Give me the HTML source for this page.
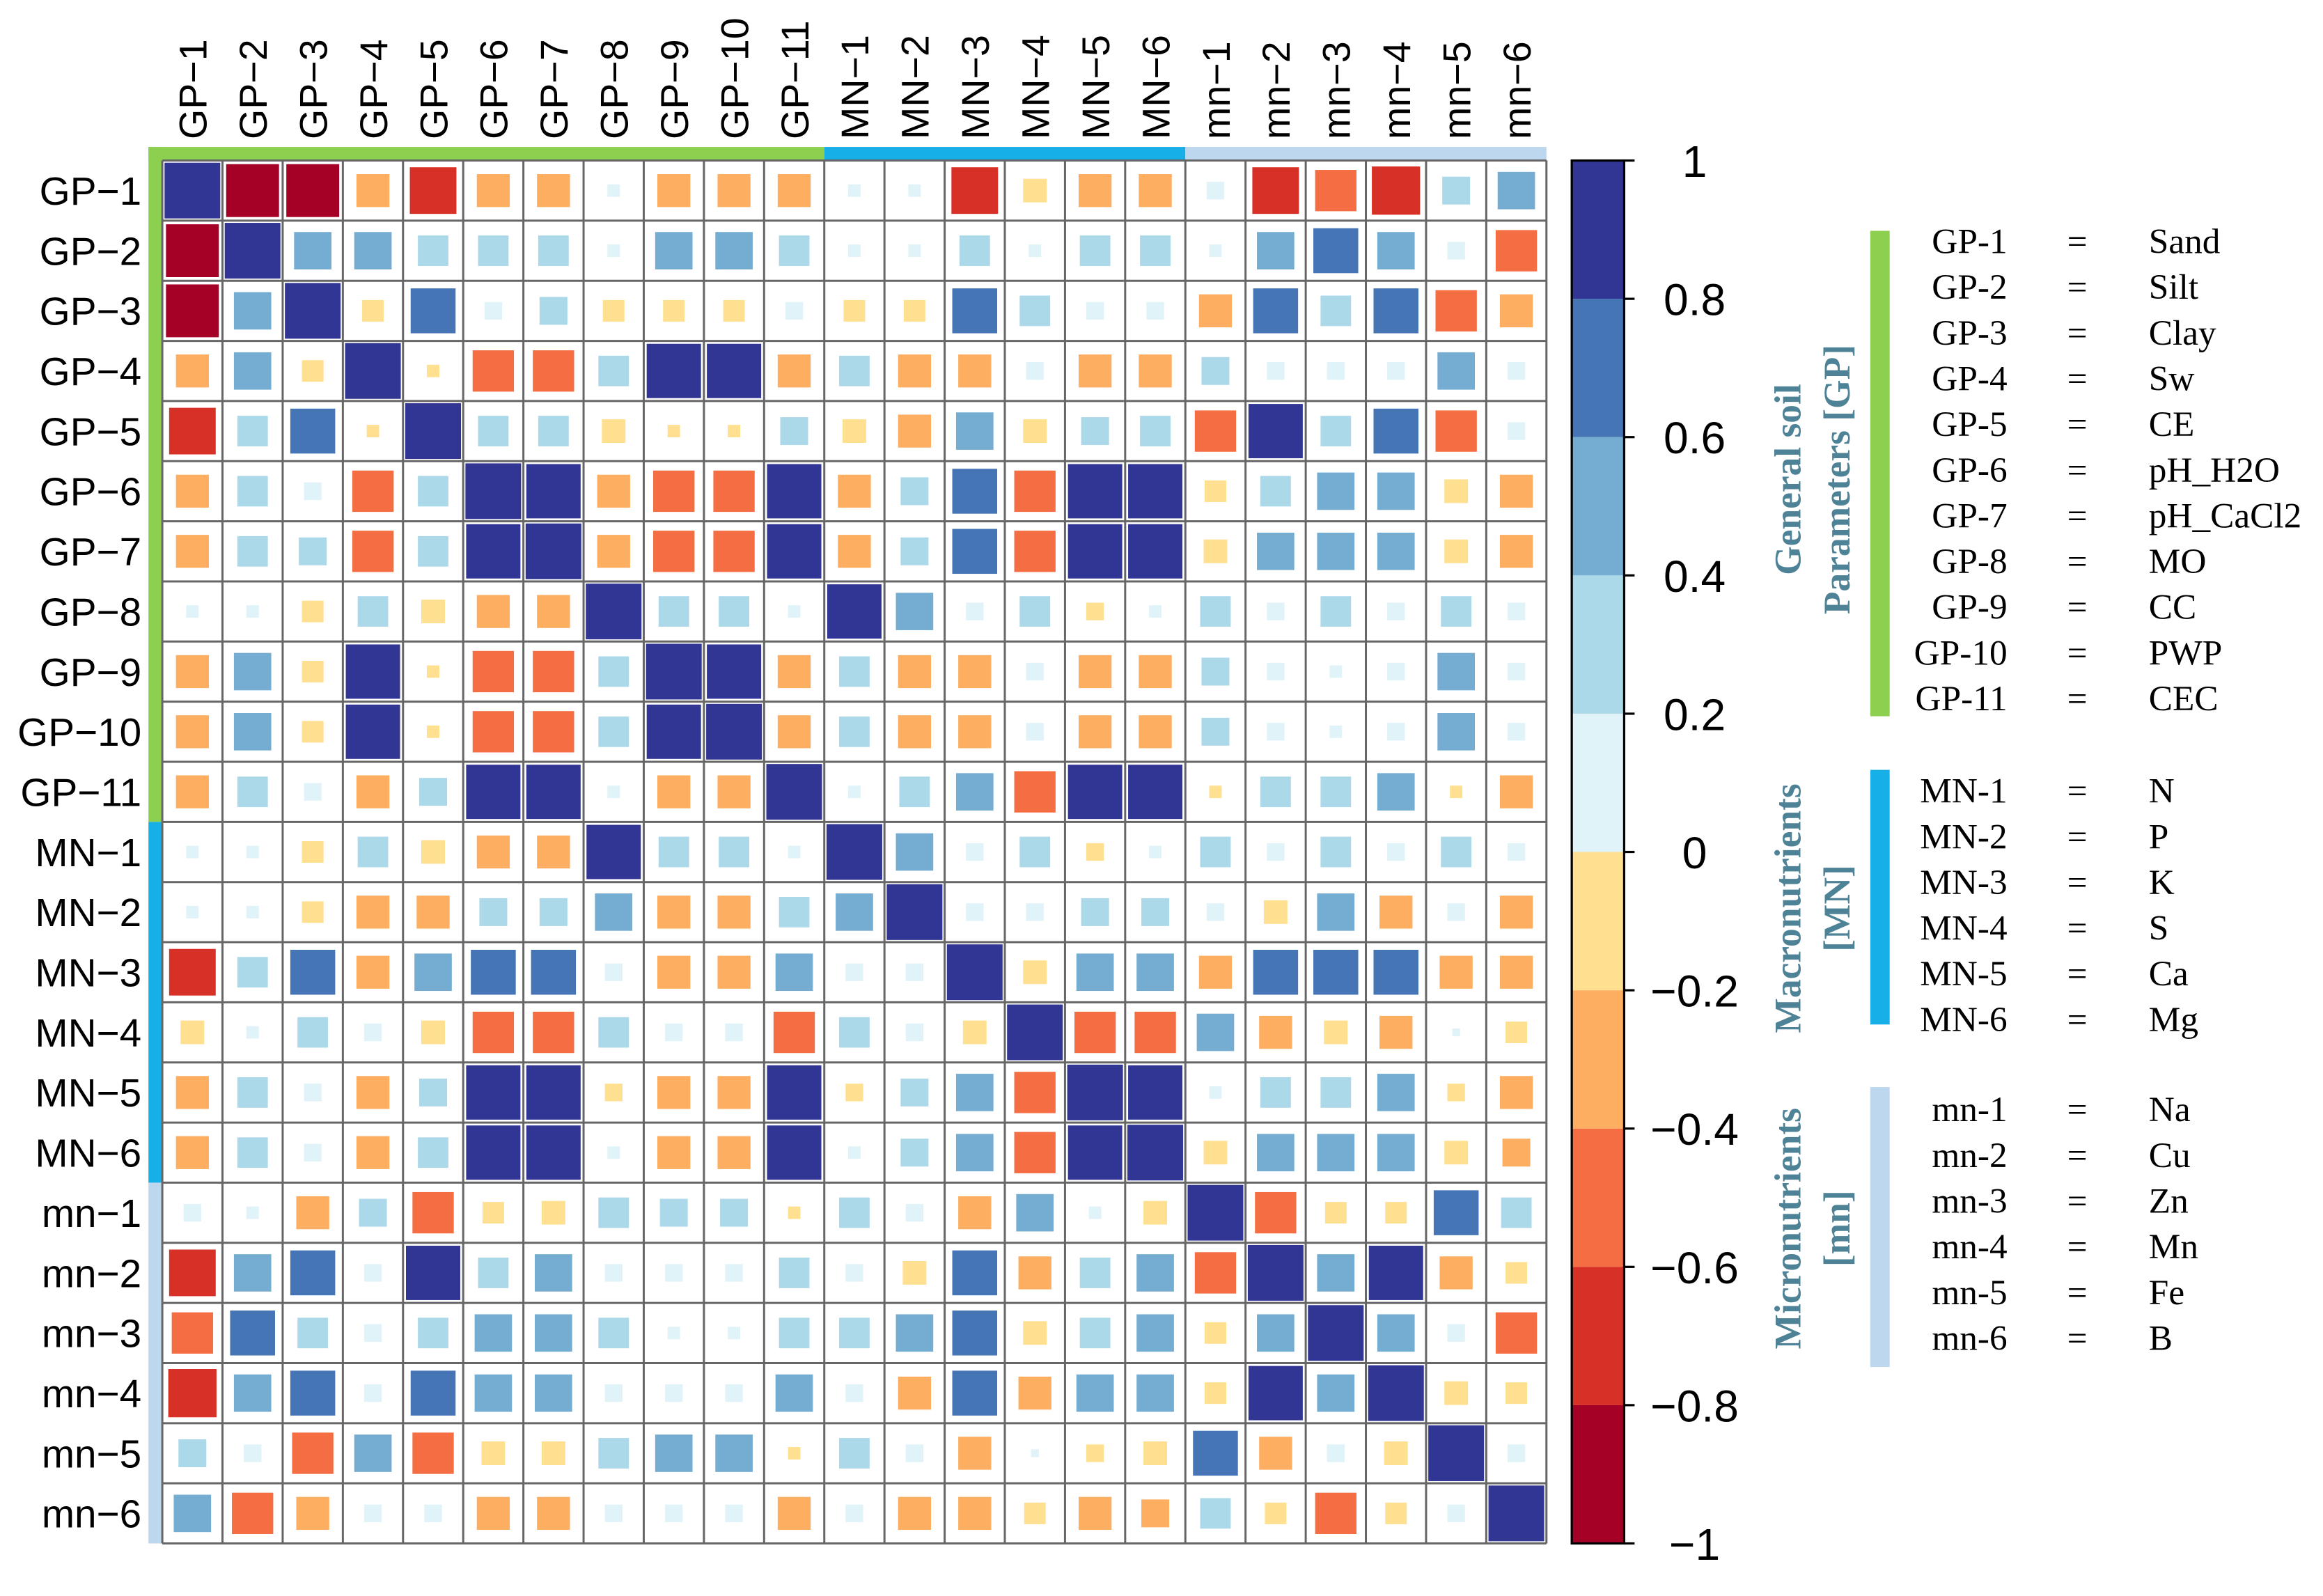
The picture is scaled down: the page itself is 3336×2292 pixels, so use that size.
<!DOCTYPE html>
<html><head><meta charset="utf-8"><style>
html,body{margin:0;padding:0;background:#fff}
svg{display:block}
</style></head><body>
<svg id="chart" width="3336" height="2292" viewBox="0 0 1560 1071.8" preserveAspectRatio="none" xmlns="http://www.w3.org/2000/svg">
<g id="matrix"></g>
<g id="colorbar"></g>
<g id="keylegend"></g>
</svg>
<script>
const labels = ["GP\u22121","GP\u22122","GP\u22123","GP\u22124","GP\u22125","GP\u22126","GP\u22127","GP\u22128","GP\u22129","GP\u221210","GP\u221211","MN\u22121","MN\u22122","MN\u22123","MN\u22124","MN\u22125","MN\u22126","mn\u22121","mn\u22122","mn\u22123","mn\u22124","mn\u22125","mn\u22126"];
const corrValues = [
[1,-0.9,-0.9,-0.35,-0.7,-0.35,-0.35,0.05,-0.35,-0.35,-0.35,0.05,0.05,-0.7,-0.18,-0.35,-0.35,0.1,-0.7,-0.55,-0.75,0.25,0.45],
[-0.9,1,0.45,0.45,0.3,0.3,0.3,0.05,0.45,0.45,0.3,0.05,0.05,0.3,0.05,0.3,0.3,0.05,0.45,0.65,0.45,0.1,-0.55],
[-0.9,0.45,1,-0.15,0.65,0.1,0.25,-0.15,-0.15,-0.15,0.1,-0.15,-0.15,0.65,0.3,0.1,0.1,-0.35,0.65,0.3,0.65,-0.55,-0.35],
[-0.35,0.45,-0.15,1,-0.05,-0.55,-0.55,0.3,0.95,0.95,-0.35,0.3,-0.35,-0.35,0.1,-0.35,-0.35,0.25,0.1,0.1,0.1,0.45,0.1],
[-0.7,0.3,0.65,-0.05,1,0.3,0.3,-0.18,-0.05,-0.05,0.25,-0.18,-0.35,0.45,-0.18,0.25,0.3,-0.55,0.95,0.3,0.65,-0.55,0.1],
[-0.35,0.3,0.1,-0.55,0.3,1,0.95,-0.35,-0.55,-0.55,0.95,-0.35,0.25,0.65,-0.55,0.95,0.95,-0.15,0.3,0.45,0.45,-0.18,-0.35],
[-0.35,0.3,0.25,-0.55,0.3,0.95,1,-0.35,-0.55,-0.55,0.95,-0.35,0.25,0.65,-0.55,0.95,0.95,-0.18,0.45,0.45,0.45,-0.18,-0.35],
[0.05,0.05,-0.15,0.3,-0.18,-0.35,-0.35,1,0.3,0.3,0.05,0.95,0.45,0.1,0.3,-0.1,0.05,0.3,0.1,0.3,0.1,0.3,0.1],
[-0.35,0.45,-0.15,0.95,-0.05,-0.55,-0.55,0.3,1,0.95,-0.35,0.3,-0.35,-0.35,0.1,-0.35,-0.35,0.25,0.1,0.05,0.1,0.45,0.1],
[-0.35,0.45,-0.15,0.95,-0.05,-0.55,-0.55,0.3,0.95,1,-0.35,0.3,-0.35,-0.35,0.1,-0.35,-0.35,0.25,0.1,0.05,0.1,0.45,0.1],
[-0.35,0.3,0.1,-0.35,0.25,0.95,0.95,0.05,-0.35,-0.35,1,0.05,0.3,0.45,-0.55,0.95,0.95,-0.05,0.3,0.3,0.45,-0.05,-0.35],
[0.05,0.05,-0.15,0.3,-0.18,-0.35,-0.35,0.95,0.3,0.3,0.05,1,0.45,0.1,0.3,-0.1,0.05,0.3,0.1,0.3,0.1,0.3,0.1],
[0.05,0.05,-0.15,-0.35,-0.35,0.25,0.25,0.45,-0.35,-0.35,0.3,0.45,1,0.1,0.1,0.25,0.25,0.1,-0.18,0.45,-0.35,0.1,-0.35],
[-0.7,0.3,0.65,-0.35,0.45,0.65,0.65,0.1,-0.35,-0.35,0.45,0.1,0.1,1,-0.18,0.45,0.45,-0.35,0.65,0.65,0.65,-0.35,-0.35],
[-0.18,0.05,0.3,0.1,-0.18,-0.55,-0.55,0.3,0.1,0.1,-0.55,0.3,0.1,-0.18,1,-0.55,-0.55,0.45,-0.35,-0.18,-0.35,0.02,-0.15],
[-0.35,0.3,0.1,-0.35,0.25,0.95,0.95,-0.1,-0.35,-0.35,0.95,-0.1,0.25,0.45,-0.55,1,0.95,0.05,0.3,0.3,0.45,-0.1,-0.35],
[-0.35,0.3,0.1,-0.35,0.3,0.95,0.95,0.05,-0.35,-0.35,0.95,0.05,0.25,0.45,-0.55,0.95,1,-0.18,0.45,0.45,0.45,-0.18,-0.25],
[0.1,0.05,-0.35,0.25,-0.55,-0.15,-0.18,0.3,0.25,0.25,-0.05,0.3,0.1,-0.35,0.45,0.05,-0.18,1,-0.55,-0.15,-0.15,0.65,0.3],
[-0.7,0.45,0.65,0.1,0.95,0.3,0.45,0.1,0.1,0.1,0.3,0.1,-0.18,0.65,-0.35,0.3,0.45,-0.55,1,0.45,0.95,-0.35,-0.15],
[-0.55,0.65,0.3,0.1,0.3,0.45,0.45,0.3,0.05,0.05,0.3,0.3,0.45,0.65,-0.18,0.3,0.45,-0.15,0.45,1,0.45,0.1,-0.55],
[-0.75,0.45,0.65,0.1,0.65,0.45,0.45,0.1,0.1,0.1,0.45,0.1,-0.35,0.65,-0.35,0.45,0.45,-0.15,0.95,0.45,1,-0.18,-0.15],
[0.25,0.1,-0.55,0.45,-0.55,-0.18,-0.18,0.3,0.45,0.45,-0.05,0.3,0.1,-0.35,0.02,-0.1,-0.18,0.65,-0.35,0.1,-0.18,1,0.1],
[0.45,-0.55,-0.35,0.1,0.1,-0.35,-0.35,0.1,0.1,0.1,-0.35,0.1,-0.35,-0.35,-0.15,-0.35,-0.25,0.3,-0.15,-0.55,-0.15,0.1,1]
];
const binBreaks = [-1,-0.8,-0.6,-0.4,-0.2,0,0.2,0.4,0.6,0.8,1];
const binColors = ["#a50026","#d73027","#f46d43","#fdae61","#fee090","#e0f3f8","#abd9e9","#74add1","#4575b4","#313695"];
const tickLabels = ["\u22121","\u22120.8","\u22120.6","\u22120.4","\u22120.2","0","0.2","0.4","0.6","0.8","1"];
const groupNames = ["GP","MN","mn"];
const groupStarts = [0,11,17];
const groupEnds = [11,17,23];
const groupColors = ["#8dcf4f","#16afe8","#bdd7ee"];
const gpCodes = ["GP-1","GP-2","GP-3","GP-4","GP-5","GP-6","GP-7","GP-8","GP-9","GP-10","GP-11"];
const gpNames = ["Sand","Silt","Clay","Sw","CE","pH_H2O","pH_CaCl2","MO","CC","PWP","CEC"];
const mnCodes = ["MN-1","MN-2","MN-3","MN-4","MN-5","MN-6"];
const mnNames = ["N","P","K","S","Ca","Mg"];
const micCodes = ["mn-1","mn-2","mn-3","mn-4","mn-5","mn-6"];
const micNames = ["Na","Cu","Zn","Mn","Fe","B"];

const NS="http://www.w3.org/2000/svg";
function mk(tag, attrs, parent){const e=document.createElementNS(NS,tag);for(const k in attrs)e.setAttribute(k,attrs[k]);parent.appendChild(e);return e;}
const X0=109, Y0=107.8, X1=1038.5, Y1=1036.5;
const n=labels.length, cw=(X1-X0)/n, ch=(Y1-Y0)/n;
const xPos=i=>X0+i*cw, yPos=i=>Y0+i*ch;
function colorFor(v){for(let b=0;b<binColors.length;b++){if(v<=binBreaks[b+1])return binColors[b];}return binColors[binColors.length-1];}
const M=document.getElementById('matrix');
for(let g=0;g<groupNames.length;g++){
  const tb=mk('rect',{x:g==0?99.7:xPos(groupStarts[g]),y:98.7,width:xPos(groupEnds[g])-(g==0?99.7:xPos(groupStarts[g])),height:9.1,fill:groupColors[g]},M);
  
  
  const lb=mk('rect',{x:99.7,y:g==0?98.7:yPos(groupStarts[g]),width:9.3,height:yPos(groupEnds[g])-(g==0?98.7:yPos(groupStarts[g])),fill:groupColors[g]},M);
  
  
}
mk('rect',{x:X0,y:Y0,width:X1-X0,height:Y1-Y0,fill:'#fff'},M);
for(let r=0;r<n;r++){for(let c=0;c<n;c++){
  const v=corrValues[r][c];
  const s=(cw-3)*Math.sqrt(Math.min(1,Math.abs(v)));
  const cx=xPos(c)+cw/2, cy=yPos(r)+ch/2;
  const sq=mk('rect',{x:cx-s/2,y:cy-s/2,width:s,height:s,fill:colorFor(v)},M);
  
  
}}
for(let i=0;i<=n;i++){
  mk('line',{x1:xPos(i),y1:Y0,x2:xPos(i),y2:Y1,stroke:'#666','stroke-width':1.4},M);
  mk('line',{x1:X0,y1:yPos(i),x2:X1,y2:yPos(i),stroke:'#666','stroke-width':1.4},M);
}
for(let i=0;i<n;i++){
  const rl=mk('text',{x:95,y:yPos(i)+ch/2+9.5,'text-anchor':'end','font-family':'Liberation Sans, Arial, sans-serif','font-size':26.5,fill:'#000'},M);
  rl.textContent=labels[i];
  
  
  const tx=xPos(i)+cw/2+9.5, ty=93.5;
  const cl=mk('text',{x:tx,y:ty,transform:`rotate(-90 ${tx} ${ty})`,'text-anchor':'start','font-family':'Liberation Sans, Arial, sans-serif','font-size':26,fill:'#000'},M);
  cl.textContent=labels[i];
  
  
}
const C=document.getElementById('colorbar');
const CB0=1055.5, CB1=1090.7, cbY=v=>Y1-(v+1)/2*(Y1-Y0);
for(let b=0;b<binColors.length;b++){
  const br=mk('rect',{x:CB0,y:cbY(binBreaks[b+1]),width:CB1-CB0,height:cbY(binBreaks[b])-cbY(binBreaks[b+1]),fill:binColors[b]},C);
  
  
}
mk('rect',{x:CB0,y:Y0,width:CB1-CB0,height:Y1-Y0,fill:'none',stroke:'#000','stroke-width':1.5},C);
for(let t=0;t<tickLabels.length;t++){
  const y=cbY(binBreaks[t]);
  mk('line',{x1:CB1,y1:y,x2:CB1+7,y2:y,stroke:'#000','stroke-width':1.5},C);
  const tl=mk('text',{x:1138,y:y+11,'text-anchor':'middle','font-family':'Liberation Sans, Arial, sans-serif','font-size':30,fill:'#000'},C);
  tl.textContent=tickLabels[t];
  
  
}
const K=document.getElementById('keylegend');
function block(codes,names,y0,barTop,barBot,color,title1,title2,titleCy,key){
  const bar=mk('rect',{x:1256,y:barTop,width:13,height:barBot-barTop,fill:color},K);
  
  
  for(let i=0;i<codes.length;i++){
    const y=y0+i*30.7;
    const a=mk('text',{x:1348,y:y,'text-anchor':'end','font-family':'Liberation Serif, serif','font-size':24,fill:'#000'},K);a.textContent=codes[i];
    
    
    const e=mk('text',{x:1395,y:y,'text-anchor':'middle','font-family':'Liberation Serif, serif','font-size':24,fill:'#000'},K);e.textContent='=';
    
    
    const nm=mk('text',{x:1443,y:y,'font-family':'Liberation Serif, serif','font-size':24,fill:'#000'},K);nm.textContent=names[i];
    
    
  }
  const titles=[title1,title2];const xs=[1209,1242];
  for(let j=0;j<2;j++){
    const t=mk('text',{x:xs[j],y:titleCy,transform:`rotate(-90 ${xs[j]} ${titleCy})`,'text-anchor':'middle','font-family':'Liberation Serif, serif','font-size':25,'font-weight':'bold',fill:'#4e8296'},K);
    t.textContent=titles[j];
    
    
  }
}
block(gpCodes,gpNames,170,155,481,'#8dcf4f','General soil','Parameters [GP]',322,'gp');
block(mnCodes,mnNames,539,517,688,'#16afe8','Macronutrients','[MN]',610,'mn-macro');
block(micCodes,micNames,753,730,918,'#bdd7ee','Micronutrients','[mn]',825,'mn-micro');
</script>
</body></html>
